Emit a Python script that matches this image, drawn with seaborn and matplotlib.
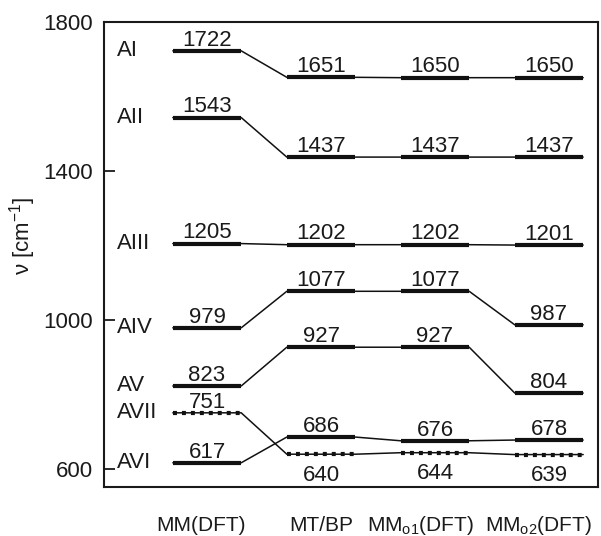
import numpy as np
import pandas as pd
import matplotlib
matplotlib.use("Agg")
import matplotlib.pyplot as plt
import matplotlib.transforms as mtransforms
import seaborn as sns

methods = ["MM(DFT)", "MT/BP", "MM$_{o1}$(DFT)", "MM$_{o2}$(DFT)"]
modes = ["AI", "AII", "AIII", "AIV", "AV", "AVI", "AVII"]
AI = [1722, 1651, 1650, 1650]
AII = [1543, 1437, 1437, 1437]
AIII = [1205, 1202, 1202, 1201]
AIV = [979, 1077, 1077, 987]
AV = [823, 927, 927, 804]
AVI = [617, 686, 676, 678]
AVII = [751, 640, 644, 639]
levels = [AI, AII, AIII, AIV, AV, AVI, AVII]
dotted_modes = ["AVII"]
# value labels drawn beneath their level (others sit above)
below = {("AVII", 1), ("AVII", 2), ("AVII", 3)}
yticks = [600, 1000, 1400, 1800]

sns.set_style("white")
plt.rcParams["font.family"] = ["Liberation Sans", "DejaVu Sans"]
plt.rcParams["mathtext.default"] = "regular"

half = 0.3  # half-width of a level bar in category units

# path through every level: left/right end of each bar, joined by thin connectors
rows = []
for m, vals in zip(modes, levels):
    for i, v in enumerate(vals):
        rows.append({"mode": m, "x": i - half, "v": v, "order": 2 * i})
        rows.append({"mode": m, "x": i + half, "v": v, "order": 2 * i + 1})
path = pd.DataFrame(rows).sort_values(["mode", "order"])

fig = plt.figure(figsize=(6.01, 5.36), dpi=100)
ax = fig.add_axes([0.173, 0.0914, 0.822, 0.868])

sns.lineplot(data=path, x="x", y="v", units="mode", estimator=None, sort=False,
             color="#111111", lw=1.1, ax=ax, legend=False)

for m, vals in zip(modes, levels):
    xs = np.arange(len(vals))
    ls = (0, (0.95, 1.2)) if m in dotted_modes else "-"
    for i, v in zip(xs, vals):
        ax.plot([i - half, i + half], [v, v], color="#111111", lw=3.0,
                ls=ls, solid_capstyle="butt", dash_capstyle="butt")
        if (m, i) in below:
            ax.annotate(str(v), (i, v), xytext=(0, -19), textcoords="offset points",
                        ha="center", va="baseline", fontsize=16, color="#1a1a1a")
        else:
            ax.annotate(str(v), (i, v), xytext=(0, 3.8), textcoords="offset points",
                        ha="center", va="baseline", fontsize=16, color="#1a1a1a")
    ax.text(-0.79, vals[0], m, ha="left", va="center", fontsize=16, color="#1a1a1a")

# method names sit below the frame, nudged slightly left so the last one fits
name_tf = mtransforms.blended_transform_factory(ax.transData, ax.transAxes)
name_nudge = [-0.05, 0.0, -0.13, -0.09]
for i, (name, dx) in enumerate(zip(methods, name_nudge)):
    ax.text(i + dx, -0.082, name, transform=name_tf, ha="center", va="center",
            fontsize=15, color="#1a1a1a")

ax.set_xlim(-0.904, 3.43)
ax.set_ylim(552, 1800)
ax.set_yticks(yticks)
ax.set_yticklabels([str(t) for t in yticks])
ax.set_xticks([])
ax.tick_params(axis="y", direction="in", length=8, width=1.3, pad=8,
               labelsize=16, colors="#1a1a1a", left=True, right=False)
ax.set_xlabel("")
ax.set_ylabel("ν [cm$^{-1}$]", fontsize=16, color="#1a1a1a")
ax.yaxis.set_label_coords(-0.134, 0.54)
for s in ax.spines.values():
    s.set_visible(True)
    s.set_color("#1a1a1a")
    s.set_linewidth(1.5)

fig.savefig("out.png", dpi=100, facecolor="white")
